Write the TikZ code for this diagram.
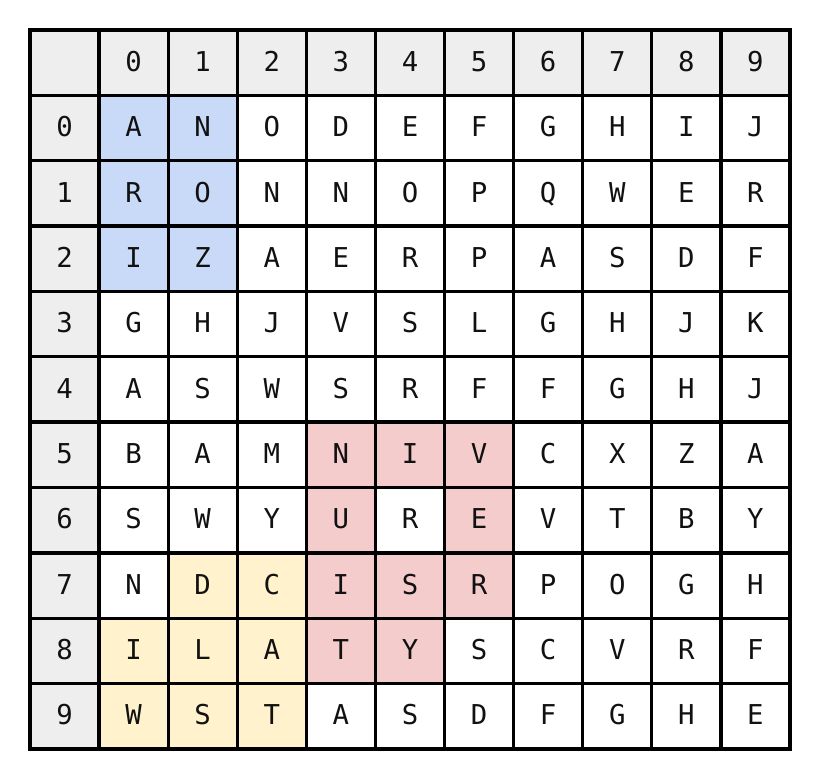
\documentclass[tikz,border=0pt]{standalone}
\usepackage{fontspec}
\setmonofont{DejaVu Sans Mono}
\begin{document}
\begin{tikzpicture}[x=0.75pt,y=-0.75pt,
  cell/.style={draw=black,line width=2.5pt,minimum width=69.09*0.75pt,minimum height=65.36*0.75pt,inner sep=0pt,outer sep=0pt,anchor=center,font=\ttfamily\fontsize{20.5}{20.5}\selectfont,text=txt,text height=13pt,text depth=-1.5pt},
  hdr/.style={cell,fill=hdrgray},
  plain/.style={cell,fill=white},
  blu/.style={cell,fill=cblue},
  red/.style={cell,fill=cred},
  yel/.style={cell,fill=cyel}]
\definecolor{hdrgray}{HTML}{EEEEEE}
\definecolor{cblue}{HTML}{C9DAF8}
\definecolor{cred}{HTML}{F4CCCC}
\definecolor{cyel}{HTML}{FFF2CC}
\definecolor{txt}{HTML}{111111}
\useasboundingbox (0,0) rectangle (818,777);
\fill[white] (0,0) rectangle (818,777);
% header row and column
\node[hdr] (h-c) at (30+0.5*69.09,30+0.5*65.36) {};
\foreach \c in {0,...,9} {
  \node[hdr] (h-\c) at (30+69.09*\c+1.5*69.09,30+0.5*65.36) {\c};
  \node[hdr] (r-\c) at (30+0.5*69.09,30+65.36*\c+1.5*65.36) {\c};
}
% body
\foreach \row/\letters in {0/{A,N,O,D,E,F,G,H,I,J},1/{R,O,N,N,O,P,Q,W,E,R},2/{I,Z,A,E,R,P,A,S,D,F},3/{G,H,J,V,S,L,G,H,J,K},4/{A,S,W,S,R,F,F,G,H,J},5/{B,A,M,N,I,V,C,X,Z,A},6/{S,W,Y,U,R,E,V,T,B,Y},7/{N,D,C,I,S,R,P,O,G,H},8/{I,L,A,T,Y,S,C,V,R,F},9/{W,S,T,A,S,D,F,G,H,E}} {
  \foreach \L [count=\i from 0] in \letters {
    \def\sty{plain}
    \ifnum\row<3 \ifnum\i<2 \def\sty{blu}\fi\fi
    \ifnum\row>4 \ifnum\row<9 \ifnum\i>2 \ifnum\i<6 \def\sty{red}\fi\fi\fi\fi
    \ifnum\row=6 \ifnum\i=4 \def\sty{plain}\fi\fi
    \ifnum\row=8 \ifnum\i=5 \def\sty{plain}\fi\fi
    \ifnum\row=7 \ifnum\i>0 \ifnum\i<3 \def\sty{yel}\fi\fi\fi
    \ifnum\row>7 \ifnum\i<3 \def\sty{yel}\fi\fi
    \node[\sty] (c-\row-\i) at (30+69.09*\i+1.5*69.09,30+65.36*\row+1.5*65.36) {\L};
  }
}
\node[draw=black,line width=3pt,minimum width=760*0.75pt,minimum height=719*0.75pt,inner sep=0pt,outer sep=0pt] (frame) at (410,389.5) {};
\end{tikzpicture}
\end{document}
